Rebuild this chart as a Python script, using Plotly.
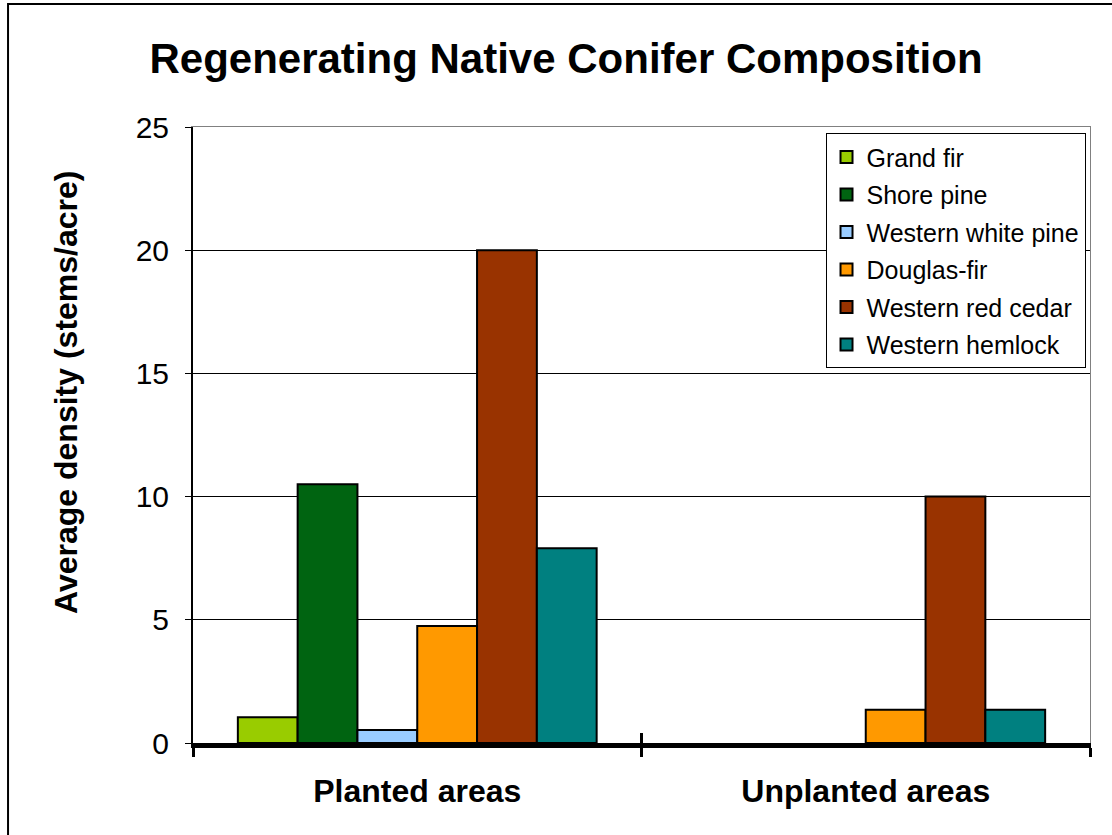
import plotly.graph_objects as go

# Average density of regenerating native conifers (stems/acre)
areas = ["Planted areas", "Unplanted areas"]
species = ["Grand fir", "Shore pine", "Western white pine",
           "Douglas-fir", "Western red cedar", "Western hemlock"]
grand_fir = [1.05, None]
shore_pine = [10.5, None]
western_white_pine = [0.53, None]
douglas_fir = [4.75, 1.35]
western_red_cedar = [20.0, 10.0]
western_hemlock = [7.9, 1.35]
colors = ["#99CC00", "#006411", "#99CCFF", "#FF9900", "#993300", "#008080"]

series = [grand_fir, shore_pine, western_white_pine,
          douglas_fir, western_red_cedar, western_hemlock]

FONT = "Liberation Sans, Arial, sans-serif"

fig = go.Figure()
for name, vals, col in zip(species, series, colors):
    fig.add_trace(go.Bar(
        x=areas, y=vals, name=name, legendgroup=name,
        marker=dict(color=col, line=dict(color="black", width=2)),
        xaxis="x", yaxis="y",
    ))

fig.update_layout(
    width=1112, height=835,
    margin=dict(l=193, r=22, t=127, b=92),
    paper_bgcolor="white", plot_bgcolor="white",
    barmode="group", bargap=0.2, bargroupgap=0,
    font=dict(family=FONT, color="black"),
    title=dict(text="<b>Regenerating Native Conifer Composition</b>",
               font=dict(size=42, family=FONT, color="black"),
               x=0.509, xref="container", xanchor="center",
               y=0.930, yref="container", yanchor="middle"),
    showlegend=True,
    legend=dict(x=0.995, xanchor="right", y=0.99, yanchor="top",
                bgcolor="white", bordercolor="black", borderwidth=1,
                font=dict(size=25, family=FONT, color="black"),
                tracegroupgap=2, itemclick=False),
    xaxis=dict(
        type="category", showline=True, linecolor="black", linewidth=5,
        ticks="outside", ticklen=9, tickwidth=3, tickcolor="black",
        tickson="boundaries", showgrid=False, zeroline=False,
        tickfont=dict(size=32, family=FONT, color="black"),
        ticklabelstandoff=16,
        tickprefix="<b>", ticksuffix="</b>",
    ),
    xaxis2=dict(
        type="category", overlaying="x", matches="x", side="bottom",
        showline=False, ticks="inside", ticklen=10, tickwidth=3,
        tickcolor="black", tickson="boundaries", showticklabels=False,
        showgrid=False, zeroline=False,
    ),
    xaxis3=dict(
        type="category", overlaying="x", matches="x", side="top",
        showline=True, linecolor="#808080", linewidth=1,
        showticklabels=False, ticks="", showgrid=False, zeroline=False,
    ),
    yaxis=dict(
        range=[0, 25], tickvals=[0, 5, 10, 15, 20, 25],
        showline=True, linecolor="black", linewidth=2,
        ticks="outside", ticklen=6, tickwidth=1, tickcolor="black",
        showgrid=True, gridcolor="#000000", gridwidth=1, zeroline=False,
        tickfont=dict(size=30, family=FONT, color="black"),
        ticklabelstandoff=10,
    ),
    yaxis2=dict(
        overlaying="y", matches="y", side="right",
        showline=True, linecolor="#808080", linewidth=1,
        showticklabels=False, ticks="", showgrid=False, zeroline=False,
    ),
)

# Invisible traces so the helper axes are rendered
fig.add_trace(go.Bar(x=areas, y=[None, None], xaxis="x2", yaxis="y",
                     showlegend=False, hoverinfo="skip"))
fig.add_trace(go.Bar(x=areas, y=[None, None], xaxis="x3", yaxis="y2",
                     showlegend=False, hoverinfo="skip"))

# Y-axis title
fig.add_annotation(text="<b>Average density (stems/acre)</b>", textangle=-90,
                   xref="paper", yref="paper", x=-0.1416, y=0.5698,
                   xanchor="center", yanchor="middle", showarrow=False,
                   font=dict(size=32, family=FONT, color="black"))

# Outer chart frame
fig.add_shape(type="rect", xref="paper", yref="paper",
              x0=-0.2062, x1=1.05, y0=-0.2, y1=1.1997,
              line=dict(color="black", width=2), fillcolor="rgba(0,0,0,0)",
              layer="above")

fig.write_html("out.html")
